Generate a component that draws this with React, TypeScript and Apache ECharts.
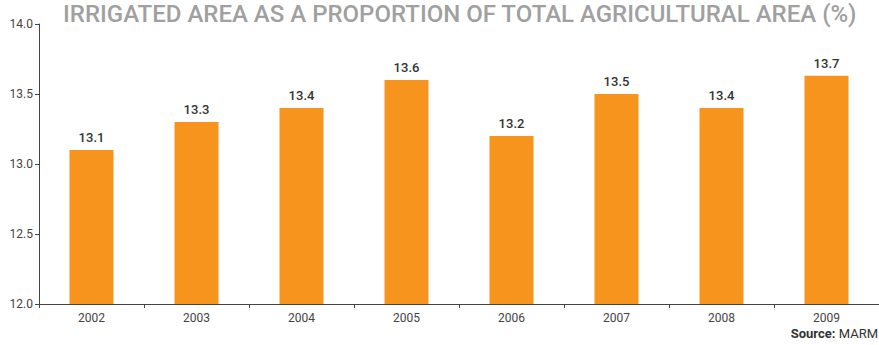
import React, { useEffect, useRef } from "react";
import * as echarts from "echarts";

const categories = ["2002", "2003", "2004", "2005", "2006", "2007", "2008", "2009"];
const values = [13.1, 13.3, 13.4, 13.6, 13.2, 13.5, 13.4, 13.63];
const valueLabels = ["13.1", "13.3", "13.4", "13.6", "13.2", "13.5", "13.4", "13.7"];
const titleText = "IRRIGATED AREA AS A PROPORTION OF TOTAL AGRICULTURAL AREA (%)";

export default function App() {
  const ref = useRef<HTMLDivElement>(null);
  useEffect(() => {
    document.body.style.margin = "0";
    const chart = echarts.init(ref.current!, null, { renderer: "svg" });
    chart.setOption({
      animation: false,
      grid: { left: 39, right: 0, top: 24, bottom: 41, containLabel: false },
      graphic: [
        {
          type: "text",
          left: 63,
          top: 2,
          style: {
            text: titleText,
            fontFamily: "Roboto",
            fontWeight: 500,
            fontSize: 24,
            fill: "#a0a0a0",
          },
        },
        {
          type: "text",
          right: 1,
          top: 327,
          style: {
            text: "{b|Source:} {r|MARM}",
            rich: {
              b: { fontFamily: "Roboto", fontWeight: "bold", fontSize: 13, fill: "#333" },
              r: { fontFamily: "Roboto", fontSize: 13, fill: "#333" },
            },
          },
        },
      ],
      xAxis: {
        type: "category",
        data: categories,
        axisLine: { lineStyle: { color: "#444", width: 1 } },
        axisTick: { show: true, alignWithLabel: false, length: 4, lineStyle: { color: "#444" } },
        axisLabel: { color: "#444", fontFamily: "Roboto", fontSize: 12, margin: 8 },
      },
      yAxis: {
        type: "value",
        min: 12,
        max: 14,
        interval: 0.5,
        axisLine: { show: true, lineStyle: { color: "#444", width: 1 } },
        axisTick: { show: true, length: 4, lineStyle: { color: "#444" } },
        splitLine: { show: false },
        axisLabel: {
          color: "#444",
          fontFamily: "Roboto",
          fontSize: 12,
          margin: 6,
          formatter: (v: number) => v.toFixed(1),
        },
      },
      series: [
        {
          type: "bar",
          data: values,
          barWidth: 44,
          itemStyle: { color: "#F7941D" },
          label: {
            show: true,
            position: "top",
            distance: 6,
            color: "#333",
            fontFamily: "Roboto",
            fontWeight: 500,
            fontSize: 13,
            formatter: (p: any) => valueLabels[p.dataIndex],
          },
        },
      ],
    });
    return () => chart.dispose();
  }, []);
  return <div ref={ref} style={{ width: 879, height: 345, position: "absolute", left: 0, top: 0 }} />;
}
